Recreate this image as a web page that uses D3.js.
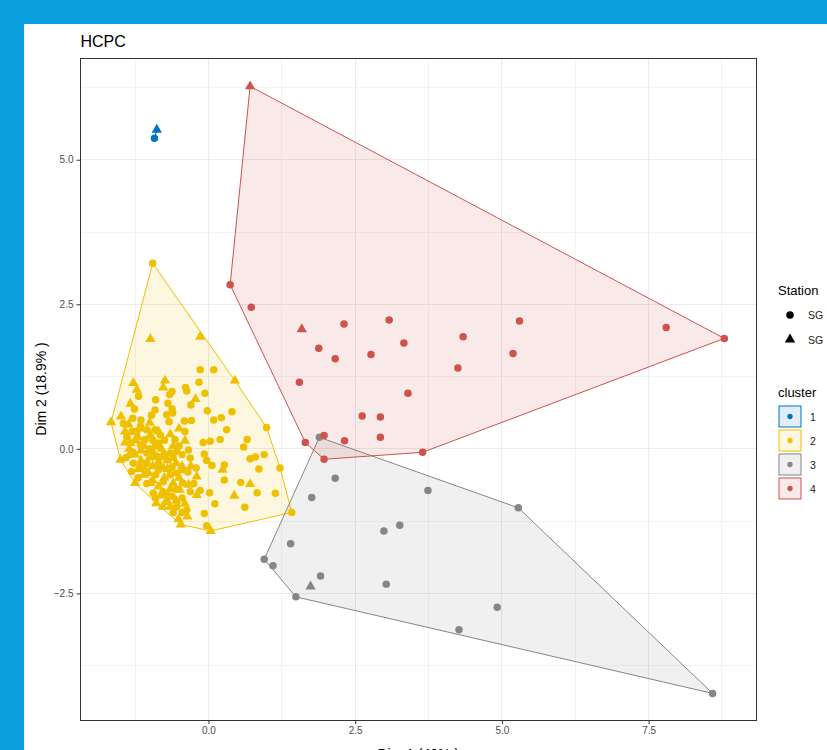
<!DOCTYPE html>
<html>
<head>
<meta charset="utf-8">
<script src="https://cdn.jsdelivr.net/npm/d3@7/dist/d3.min.js"></script>
<style>
  html, body { margin: 0; padding: 0; background: #0a9fdc; }
  svg { display: block; }
  text { font-family: "Liberation Sans", Arial, sans-serif; }
</style>
</head>
<body>
<svg id="chart" width="827" height="750"></svg>
<script>
// Cluster labels and palette (ggsci "jco")
const clusters = ["1", "2", "3", "4"];
const clusterColors = ["#0073C2", "#EFC000", "#868686", "#CD534C"];
const stations = ["SG", "SG"];          // 0 = circle, 1 = triangle

// Individuals on the first factorial plane: [Dim1, Dim2, station]
const cluster1 = [
  [-0.92, 5.37, 0], [-0.88, 5.52, 1]
];
const cluster2 = [
  [-0.95, 3.21, 0], [-0.99, 1.90, 1], [-0.14, 1.94, 1], [-0.14, 1.37, 0], [0.09, 1.37, 0],
  [0.45, 1.18, 1], [-0.16, 1.15, 0], [-1.28, 1.14, 1], [-0.74, 1.18, 1], [-0.77, 1.06, 1],
  [-0.39, 1.06, 0], [-0.37, 1.00, 0], [-0.62, 0.99, 0], [-0.66, 0.94, 0], [-0.06, 0.96, 0],
  [-1.22, 1.02, 1], [-1.19, 0.91, 0], [-0.90, 0.85, 0], [-0.22, 0.86, 1], [-0.69, 0.79, 0],
  [-0.30, 0.76, 0], [-1.33, 0.78, 1], [-1.26, 0.69, 0], [-0.91, 0.67, 0], [-0.62, 0.69, 0],
  [-0.02, 0.66, 0], [0.40, 0.64, 0], [-0.97, 0.58, 0], [-0.71, 0.59, 0], [-0.61, 0.62, 0],
  [-1.49, 0.56, 1], [-1.66, 0.46, 1], [-1.29, 0.53, 0], [-1.15, 0.50, 0], [-0.67, 0.47, 0],
  [-0.41, 0.48, 0], [-0.29, 0.49, 0], [0.09, 0.50, 0], [0.22, 0.54, 0], [0.99, 0.37, 0],
  [-1.45, 0.44, 0], [-1.36, 0.42, 1], [-1.16, 0.39, 0], [-1.05, 0.33, 0], [-0.91, 0.33, 0],
  [-0.82, 0.24, 0], [0.31, 0.33, 0], [-1.42, 0.30, 1], [-1.22, 0.30, 0], [-0.57, 0.16, 0],
  [-0.40, 0.14, 1], [-0.09, 0.11, 0], [0.03, 0.13, 0], [0.20, 0.16, 0], [0.66, 0.16, 0],
  [-1.42, 0.11, 1], [-1.33, 0.10, 1], [-1.16, 0.07, 0], [-0.85, 0.10, 0], [-0.54, -0.04, 0],
  [-0.34, -0.02, 0], [0.60, 0.03, 0], [-0.07, -0.09, 0], [-0.45, -0.10, 0], [-1.50, -0.19, 1],
  [-1.31, -0.05, 0], [-1.05, -0.07, 0], [-0.94, -0.13, 0], [-0.31, -0.16, 0], [-0.03, -0.20, 0],
  [0.06, -0.29, 0], [0.71, -0.17, 0], [0.80, -0.14, 0], [0.95, -0.10, 0], [0.27, -0.28, 0],
  [0.24, -0.36, 1], [0.86, -0.35, 0], [1.22, -0.33, 0], [-1.28, -0.25, 0], [-1.16, -0.31, 0],
  [-0.80, -0.31, 0], [-0.62, -0.32, 0], [-0.45, -0.37, 1], [-0.21, -0.33, 0], [-1.31, -0.39, 0],
  [-1.02, -0.42, 1], [-0.85, -0.36, 0], [-0.54, -0.42, 0], [-0.20, -0.48, 1], [0.27, -0.54, 0],
  [0.55, -0.58, 0], [0.71, -0.61, 1], [-1.25, -0.59, 1], [-0.99, -0.59, 1], [-0.77, -0.57, 0],
  [-0.44, -0.59, 0], [-0.34, -0.62, 1], [-0.14, -0.72, 0], [-0.49, -0.71, 1], [-0.31, -0.74, 0],
  [0.02, -0.76, 0], [0.83, -0.76, 0], [1.14, -0.77, 0], [0.44, -0.81, 1], [-0.94, -0.77, 0],
  [-0.77, -0.74, 0], [-0.62, -0.82, 0], [-0.71, -0.91, 0], [-0.89, -0.94, 1], [0.11, -0.95, 0],
  [0.62, -1.01, 0], [-0.78, -1.00, 1], [-0.54, -1.00, 0], [1.42, -1.10, 0], [-0.37, -1.06, 0],
  [-0.07, -1.12, 0], [-0.51, -1.22, 1], [-0.36, -1.17, 1], [-0.47, -1.31, 1], [-0.03, -1.33, 0],
  [0.04, -1.42, 1], [-1.15, -0.03, 1], [-1.33, -0.10, 0], [-0.88, -0.13, 0], [-0.65, -0.07, 0],
  [-1.08, 0.16, 0], [-0.99, 0.24, 1], [-1.39, 0.21, 0],
  [-1.20, 0.20, 1], [-1.10, 0.05, 1], [-1.00, 0.00, 0], [-0.95, -0.05, 1], [-0.90, 0.05, 0],
  [-0.80, 0.00, 1], [-0.75, -0.10, 0], [-0.70, -0.20, 1], [-0.60, -0.15, 0], [-0.55, -0.25, 1],
  [-1.15, -0.20, 1], [-1.05, -0.25, 0], [-0.95, -0.30, 1], [-0.85, -0.25, 0], [-0.70, -0.35, 1],
  [-0.65, -0.45, 0], [-0.75, -0.50, 1], [-0.90, -0.45, 0], [-1.10, -0.45, 1], [-1.20, -0.50, 0],
  [-1.05, -0.60, 0], [-0.85, -0.65, 1], [-0.60, -0.60, 1], [-0.55, -0.70, 0], [-0.65, -0.70, 1],
  [-0.80, -0.80, 0], [-0.90, -0.85, 0], [-0.55, -0.90, 1], [-0.45, -0.85, 0], [-0.40, -0.95, 1],
  [-0.65, -1.00, 1], [-0.60, -1.10, 0], [-0.45, -1.10, 0], [-1.30, 0.30, 0], [-1.25, 0.15, 1],
  [-1.35, 0.00, 1], [-1.40, -0.15, 0], [-1.25, -0.10, 1], [-1.15, 0.35, 1], [-1.00, 0.45, 1],
  [-0.95, 0.15, 0], [-0.85, 0.30, 1], [-0.75, 0.15, 0], [-0.65, 0.25, 1], [-0.50, 0.05, 0],
  [-0.45, -0.30, 1], [-0.35, -0.40, 0], [-0.30, -0.30, 1], [-0.25, -0.60, 0], [-0.20, -0.80, 1],
  [-0.50, -0.50, 1], [-1.00, -0.15, 1], [-1.10, -0.35, 0], [-0.80, -0.15, 1], [-0.60, 0.05, 1],
  [-0.40, 0.30, 0], [-0.50, 0.35, 1], [-1.20, -0.35, 1], [-0.70, -0.80, 1], [-0.95, -0.55, 1]
];
const cluster3 = [
  [1.89, 0.20, 0], [2.16, -0.51, 0], [1.76, -0.84, 0], [3.74, -0.72, 0], [5.28, -1.02, 0],
  [3.26, -1.32, 0], [2.99, -1.42, 0], [1.40, -1.64, 0], [0.95, -1.91, 0], [1.10, -2.02, 0],
  [1.91, -2.20, 0], [1.74, -2.38, 1], [3.03, -2.34, 0], [1.49, -2.56, 0], [4.92, -2.74, 0],
  [4.27, -3.13, 0], [8.59, -4.23, 0]
];
const cluster4 = [
  [0.71, 6.27, 1], [0.37, 2.84, 0], [0.73, 2.45, 0], [1.59, 2.07, 1], [2.31, 2.16, 0],
  [3.08, 2.23, 0], [5.30, 2.21, 0], [7.80, 2.10, 0], [8.79, 1.91, 0], [1.88, 1.74, 0],
  [2.16, 1.56, 0], [2.77, 1.63, 0], [3.33, 1.83, 0], [4.34, 1.94, 0], [5.19, 1.65, 0],
  [4.25, 1.40, 0], [1.55, 1.15, 0], [3.40, 0.96, 0], [2.62, 0.57, 0], [2.93, 0.55, 0],
  [2.93, 0.20, 0], [2.32, 0.14, 0], [1.97, 0.23, 0], [1.65, 0.11, 0], [1.97, -0.18, 0],
  [3.65, -0.06, 0]
];
const xTicks = [0, 2.5, 5, 7.5];
const yTicks = [-2.5, 0, 2.5, 5];
const xMinor = [-1.25, 1.25, 3.75, 6.25, 8.75];
const yMinor = [-3.75, -1.25, 1.25, 3.75, 6.25];

const groups = [cluster1, cluster2, cluster3, cluster4];

const svg = d3.select("#chart");
const W = 827, H = 750;

// Page background and white card
svg.append("rect").attr("width", W).attr("height", H).attr("fill", "#0a9fdc");
svg.append("rect").attr("x", 24).attr("y", 24).attr("width", W - 24).attr("height", H - 24).attr("fill", "#ffffff");

const panel = { left: 80.5, top: 58, right: 756, bottom: 720 };
const x = d3.scaleLinear().domain([-2.18, 9.33]).range([panel.left, panel.right]);
const y = d3.scaleLinear().domain([-4.69, 6.76]).range([panel.bottom, panel.top]);

const g = svg.append("g");

// Grid
const grid = g.append("g").attr("stroke", "#ebebeb").attr("shape-rendering", "crispEdges");
xMinor.forEach(v => grid.append("line").attr("x1", x(v)).attr("x2", x(v)).attr("y1", panel.top).attr("y2", panel.bottom).attr("stroke-width", 0.6));
yMinor.forEach(v => grid.append("line").attr("y1", y(v)).attr("y2", y(v)).attr("x1", panel.left).attr("x2", panel.right).attr("stroke-width", 0.6));
xTicks.forEach(v => grid.append("line").attr("x1", x(v)).attr("x2", x(v)).attr("y1", panel.top).attr("y2", panel.bottom).attr("stroke-width", 1.1));
yTicks.forEach(v => grid.append("line").attr("y1", y(v)).attr("y2", y(v)).attr("x1", panel.left).attr("x2", panel.right).attr("stroke-width", 1.1));

// Convex hulls per cluster
const fillAlpha = 0.12;
groups.forEach((pts, i) => {
  const xy = pts.map(p => [x(p[0]), y(p[1])]);
  const hull = xy.length >= 3 ? d3.polygonHull(xy) : xy;
  g.append("path")
    .attr("d", "M" + hull.map(p => p.join(",")).join("L") + "Z")
    .attr("fill", clusterColors[i])
    .attr("fill-opacity", fillAlpha)
    .attr("stroke", clusterColors[i])
    .attr("stroke-width", 1);
});

// Points
const symCircle = d3.symbol().type(d3.symbolCircle).size(44);
const symTri = d3.symbol().type(d3.symbolTriangle).size(46);
groups.forEach((pts, i) => {
  g.append("g").selectAll("path").data(pts).join("path")
    .attr("transform", d => `translate(${x(d[0])},${y(d[1])})`)
    .attr("d", d => d[2] === 1 ? symTri() : symCircle())
    .attr("fill", clusterColors[i]);
});

// Panel border
g.append("rect")
  .attr("x", panel.left).attr("y", panel.top)
  .attr("width", panel.right - panel.left).attr("height", panel.bottom - panel.top)
  .attr("fill", "none").attr("stroke", "#333333").attr("stroke-width", 1)
  .attr("shape-rendering", "crispEdges");

// Axes
const fmt = d3.format(".1f");
const xAxis = d3.axisBottom(x).tickValues(xTicks).tickFormat(fmt).tickSize(4).tickPadding(3);
const yAxis = d3.axisLeft(y).tickValues(yTicks).tickFormat(fmt).tickSize(4).tickPadding(3);
const ax = svg.append("g").attr("transform", `translate(0,${panel.bottom})`).call(xAxis);
const ay = svg.append("g").attr("transform", `translate(${panel.left},0)`).call(yAxis);
[ax, ay].forEach(a => {
  a.select(".domain").remove();
  a.selectAll(".tick line").attr("stroke", "#333333");
  a.selectAll(".tick text").attr("fill", "#4d4d4d").attr("font-size", 10)
    .attr("font-family", "Liberation Sans, Arial, sans-serif");
});

// Titles
svg.append("text").attr("x", panel.left).attr("y", 47).attr("font-size", 16).attr("fill", "#000").text("HCPC");
svg.append("text")
  .attr("transform", `translate(46,${(panel.top + panel.bottom) / 2}) rotate(-90)`)
  .attr("text-anchor", "middle").attr("font-size", 14).attr("fill", "#000")
  .text("Dim 2 (18.9% )");
svg.append("text")
  .attr("x", (panel.left + panel.right) / 2).attr("y", 759)
  .attr("text-anchor", "middle").attr("font-size", 14).attr("fill", "#000")
  .text("Dim 1 (40% )");

// Legend: Station shapes
const lg = svg.append("g");
lg.append("text").attr("x", 778).attr("y", 295).attr("font-size", 13).text("Station");
stations.forEach((s, i) => {
  const cy = 315 + i * 24.5;
  lg.append("path").attr("transform", `translate(790,${cy})`)
    .attr("d", i === 1 ? symTri() : symCircle()).attr("fill", "#000");
  lg.append("text").attr("x", 808).attr("y", cy + 4).attr("font-size", 10.5).attr("fill", "#1a1a1a").text(s);
});

// Legend: clusters
lg.append("text").attr("x", 778).attr("y", 397).attr("font-size", 13).text("cluster");
const keyDot = d3.symbol().type(d3.symbolCircle).size(22);
clusters.forEach((c, i) => {
  const top = 406 + i * 24;
  lg.append("rect").attr("x", 779).attr("y", top).attr("width", 22).attr("height", 21)
    .attr("fill", clusterColors[i]).attr("fill-opacity", fillAlpha)
    .attr("stroke", clusterColors[i]).attr("stroke-width", 1);
  lg.append("path").attr("transform", `translate(790,${top + 10.5})`)
    .attr("d", keyDot()).attr("fill", clusterColors[i]);
  lg.append("text").attr("x", 810).attr("y", top + 15).attr("font-size", 10.5).attr("fill", "#1a1a1a").text(c);
});
</script>
</body>
</html>
